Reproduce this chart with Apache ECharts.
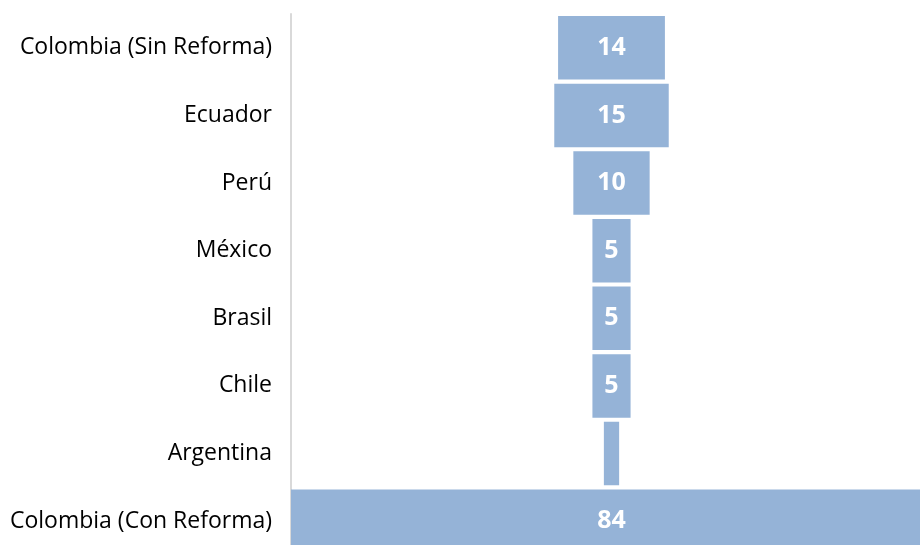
<!DOCTYPE html>
<html>
<head>
<meta charset="utf-8">
<script src="https://cdn.jsdelivr.net/npm/echarts@6/dist/echarts.min.js"></script>
<style>
  html, body { margin: 0; padding: 0; background: #fff; }
  #chart { width: 920px; height: 545px; }
</style>
</head>
<body>
<div id="chart"></div>
<script>
// ---- data ----
const countries = [
  'Colombia (Sin Reforma)',
  'Ecuador',
  'Perú',
  'México',
  'Brasil',
  'Chile',
  'Argentina',
  'Colombia (Con Reforma)'
]
const values = [14, 15, 10, 5, 5, 5, 2, 84]
const maxValue = 84

// centred bars: an invisible offset stacked under each value
const offsets = values.map((v) => (maxValue - v) / 2)

const chart = echarts.init(document.getElementById('chart'))
chart.setOption({
  animation: false,
  textStyle: { fontFamily: 'Open Sans' },
  // the plot runs a little past the right and bottom edges of the picture
  grid: {
    left: 291,
    top: 14,
    width: 641,
    height: 541,
    containLabel: false,
    outerBoundsMode: 'none'
  },
  xAxis: {
    type: 'value',
    min: 0,
    max: maxValue,
    show: false
  },
  yAxis: {
    type: 'category',
    data: countries,
    inverse: true,
    axisLine: { show: true, lineStyle: { color: '#d9d9d9', width: 2 } },
    axisTick: { show: false },
    axisLabel: { color: '#000', fontSize: 23, margin: 19, fontFamily: 'Open Sans' }
  },
  series: [
    {
      type: 'bar',
      stack: 'funnel',
      data: offsets,
      itemStyle: { color: 'transparent' },
      silent: true,
      barCategoryGap: '6%'
    },
    {
      type: 'bar',
      stack: 'funnel',
      data: values.map((v) => ({
        value: v,
        label: { show: v >= 5 }
      })),
      barCategoryGap: '6%',
      itemStyle: { color: '#95b3d7' },
      label: {
        position: 'inside',
        color: '#fff',
        fontSize: 25,
        fontWeight: 'bold',
        fontFamily: 'Open Sans'
      }
    }
  ]
})
</script>
</body>
</html>
